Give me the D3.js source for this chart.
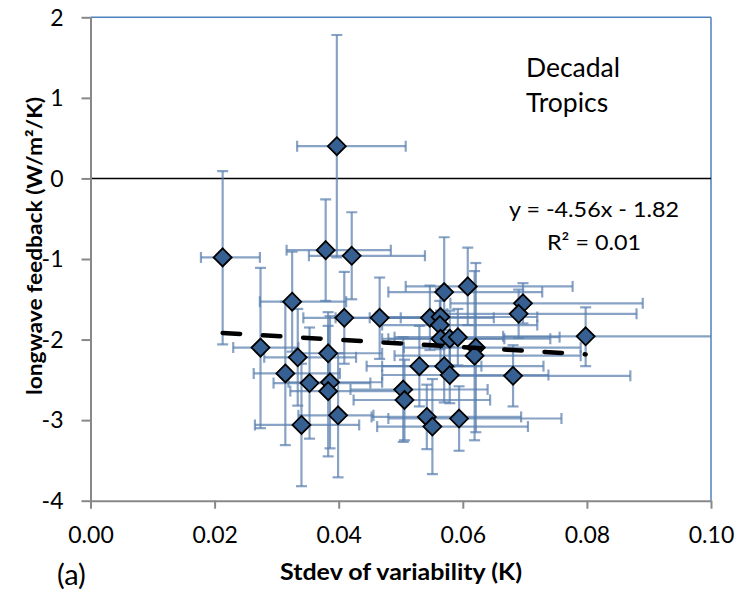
<!DOCTYPE html>
<html><head><meta charset="utf-8">
<script src="https://cdn.jsdelivr.net/npm/d3@7"></script>
<style>
html,body{margin:0;padding:0;background:#fff;}
svg text{font-family:Lato,"Open Sans",sans-serif;}
</style></head>
<body><svg id="c" width="736" height="596"></svg>
<script>
// ---- data ----
const ptX   = [.0397,.0213,.0379,.0421,.0325,.0409,.0466,.0274,.0334,.0383,.0314,.0353,.0386,.0383,.0399,.0340,
               .0570,.0608,.0697,.0690,.0547,.0564,.0563,.0564,.0579,.0592,.0621,.0619,.0798,.0530,.0570,.0579,.0681,.0504,.0506,.0542,.0551,.0594];
const ptY   = [0.40,-0.98,-0.89,-0.96,-1.53,-1.73,-1.73,-2.10,-2.22,-2.17,-2.42,-2.54,-2.53,-2.64,-2.94,-3.06,
               -1.41,-1.34,-1.55,-1.68,-1.73,-1.72,-1.82,-1.99,-1.99,-1.97,-2.10,-2.20,-1.96,-2.33,-2.33,-2.44,-2.45,-2.62,-2.75,-2.96,-3.08,-2.98];
const xLow  = [.0333,.0178,.0316,.0352,.0273,.0343,.0395,.0230,.0280,.0330,.0263,.0295,.0319,.0322,.0335,.0265,
               .0480,.0508,.0580,.0575,.0450,.0460,.0470,.0470,.0480,.0490,.0505,.0490,.0665,.0445,.0470,.0470,.0575,.0419,.0424,.0453,.0462,.0480];
const xHigh = [.0508,.0273,.0484,.0539,.0412,.0500,.0570,.0335,.0428,.0470,.0402,.0451,.0470,.0499,.0456,.0433,
               .0728,.0777,.0890,.0880,.0650,.0720,.0720,.0667,.0741,.0756,.0790,.0790,.1030,.0630,.0730,.0738,.0870,.0640,.0644,.0694,.0705,.0759];
const yLow  = [-0.98,-2.06,-1.52,-1.50,-2.15,-2.30,-2.24,-3.10,-2.82,-2.68,-3.31,-3.23,-3.35,-3.45,-3.71,-3.82,
               -2.10,-1.82,-1.80,-1.98,-2.13,-2.07,-2.12,-2.34,-2.34,-2.32,-3.15,-3.25,-2.33,-2.83,-2.78,-2.79,-2.83,-3.27,-3.25,-3.36,-3.67,-3.38];
const yHigh = [1.78,0.09,-0.26,-0.42,-0.91,-1.16,-1.23,-1.11,-1.62,-1.66,-1.53,-1.85,-1.71,-1.83,-2.17,-2.30,
               -0.73,-0.86,-1.30,-1.38,-1.33,-1.37,-1.52,-1.64,-1.64,-1.62,-1.05,-1.15,-1.60,-1.83,-1.88,-2.09,-2.07,-1.97,-2.25,-2.56,-2.49,-2.58];
const xTicks = [0, 0.02, 0.04, 0.06, 0.08, 0.10];
const yTicks = [2, 1, 0, -1, -2, -3, -4];
const trendSlope = -4.56, trendIntercept = -1.82;
const eqLabel = "y = -4.56x - 1.82";
const r2Label = "R\u00B2 = 0.01";
const panelLines = ["Decadal", "Tropics"];
const xTitle = "Stdev of variability (K)";
const yTitle = "longwave feedback (W/m\u00B2/K)";
const panelTag = "(a)";

// ---- layout ----
const L = 90.5, R = 711, T = 17.3, B = 500.7;
const svg = d3.select("#c");
const x = d3.scaleLinear().domain([0, 0.10]).range([L, R]);
const y = d3.scaleLinear().domain([-4, 2]).range([B, T]);

const pts = ptX.map((v,i)=>({x:v,y:ptY[i],xl:xLow[i],xh:xHigh[i],yl:yLow[i],yh:yHigh[i]}));

svg.append("defs").append("clipPath").attr("id","plotclip")
  .append("rect").attr("x",L).attr("y",T-10).attr("width",R-L).attr("height",B-T+20);

// frame: top & right blue
svg.append("line").attr("x1",L).attr("x2",R).attr("y1",T).attr("y2",T).attr("stroke","#4f81bd").attr("stroke-width",1.5);
svg.append("line").attr("x1",R).attr("x2",R).attr("y1",T).attr("y2",B).attr("stroke","#4f81bd").attr("stroke-width",1.5);

// zero line
svg.append("line").attr("x1",L).attr("x2",R).attr("y1",y(0)).attr("y2",y(0)).attr("stroke","#000").attr("stroke-width",1.5);

// axes
const gx = svg.append("g").attr("transform",`translate(0,${B})`)
  .call(d3.axisBottom(x).tickValues(xTicks).tickFormat(d3.format(".2f")).tickSizeInner(8).tickSizeOuter(0).tickPadding(18));
const gy = svg.append("g").attr("transform",`translate(${L},0)`)
  .call(d3.axisLeft(y).tickValues(yTicks).tickFormat(d=>String(d)).tickSizeInner(9).tickSizeOuter(0).tickPadding(18));
[gx,gy].forEach(g=>{
  g.select(".domain").attr("stroke","#888").attr("stroke-width",2);
  g.selectAll(".tick line").attr("stroke","#888").attr("stroke-width",2);
  g.selectAll(".tick text").attr("fill","#000").style("font-size","23px").style("font-family","Lato");
});
gx.selectAll(".tick text").attr("dy",0).attr("y",42.5);
gy.selectAll(".tick text").attr("dy","0.34em").attr("x",-27);

// error bars
const eb = svg.append("g").attr("clip-path","url(#plotclip)")
  .attr("stroke","#5a7fae").attr("stroke-opacity",0.72).attr("stroke-width",2.2).attr("fill","none");
const cap = 5.5;
pts.forEach(p=>{
  const g = eb.append("g");
  g.append("line").attr("x1",x(p.xl)).attr("x2",x(p.xh)).attr("y1",y(p.y)).attr("y2",y(p.y));
  g.append("line").attr("x1",x(p.xl)).attr("x2",x(p.xl)).attr("y1",y(p.y)-cap).attr("y2",y(p.y)+cap);
  g.append("line").attr("x1",x(p.xh)).attr("x2",x(p.xh)).attr("y1",y(p.y)-cap).attr("y2",y(p.y)+cap);
  g.append("line").attr("x1",x(p.x)).attr("x2",x(p.x)).attr("y1",y(p.yl)).attr("y2",y(p.yh));
  g.append("line").attr("x1",x(p.x)-cap).attr("x2",x(p.x)+cap).attr("y1",y(p.yl)).attr("y2",y(p.yl));
  g.append("line").attr("x1",x(p.x)-cap).attr("x2",x(p.x)+cap).attr("y1",y(p.yh)).attr("y2",y(p.yh));
});

// markers
const d = 9;
svg.append("g").selectAll("path").data(pts).join("path")
  .attr("d",p=>{const cx=x(p.x), cy=y(p.y); return `M${cx},${cy-d}L${cx+d},${cy}L${cx},${cy+d}L${cx-d},${cy}Z`;})
  .attr("fill","#376092").attr("stroke","#000").attr("stroke-width",1.8).attr("stroke-linejoin","miter");

// trend line
const xMin = d3.min(ptX), xMax = d3.max(ptX);
svg.append("line")
  .attr("x1",x(xMin)).attr("y1",y(trendSlope*xMin+trendIntercept))
  .attr("x2",x(xMax)).attr("y2",y(trendSlope*xMax+trendIntercept))
  .attr("stroke","#000").attr("stroke-width",4.5).attr("stroke-linecap","round")
  .attr("stroke-dasharray","17.5,22.8");

// texts
const txt = (s,xx,yy,opt={}) => {
  const t = svg.append("text").attr("x",xx).attr("y",yy).text(s)
    .style("font-size",(opt.size||20)+"px").style("font-weight",opt.bold?"700":"400")
    .attr("text-anchor",opt.anchor||"start").attr("fill","#000");
  if (opt.len) t.attr("textLength",opt.len).attr("lengthAdjust","spacingAndGlyphs");
  return t;
};
txt(panelLines[0],526,76.7,{size:26.5});
txt(panelLines[1],526,111.7,{size:26.5});
txt(eqLabel,594,216.7,{size:21.5,anchor:"middle",len:170});
txt(r2Label,594,250,{size:21.5,anchor:"middle",len:94});
txt(xTitle,401,580,{size:22,bold:true,anchor:"middle",len:242});
txt(panelTag,57,585,{size:29});
svg.append("text").attr("transform","translate(42,246) rotate(-90)").attr("text-anchor","middle")
  .style("font-size","21px").style("font-weight","700").attr("fill","#000")
  .attr("textLength",298).attr("lengthAdjust","spacingAndGlyphs").text(yTitle);
</script></body></html>
